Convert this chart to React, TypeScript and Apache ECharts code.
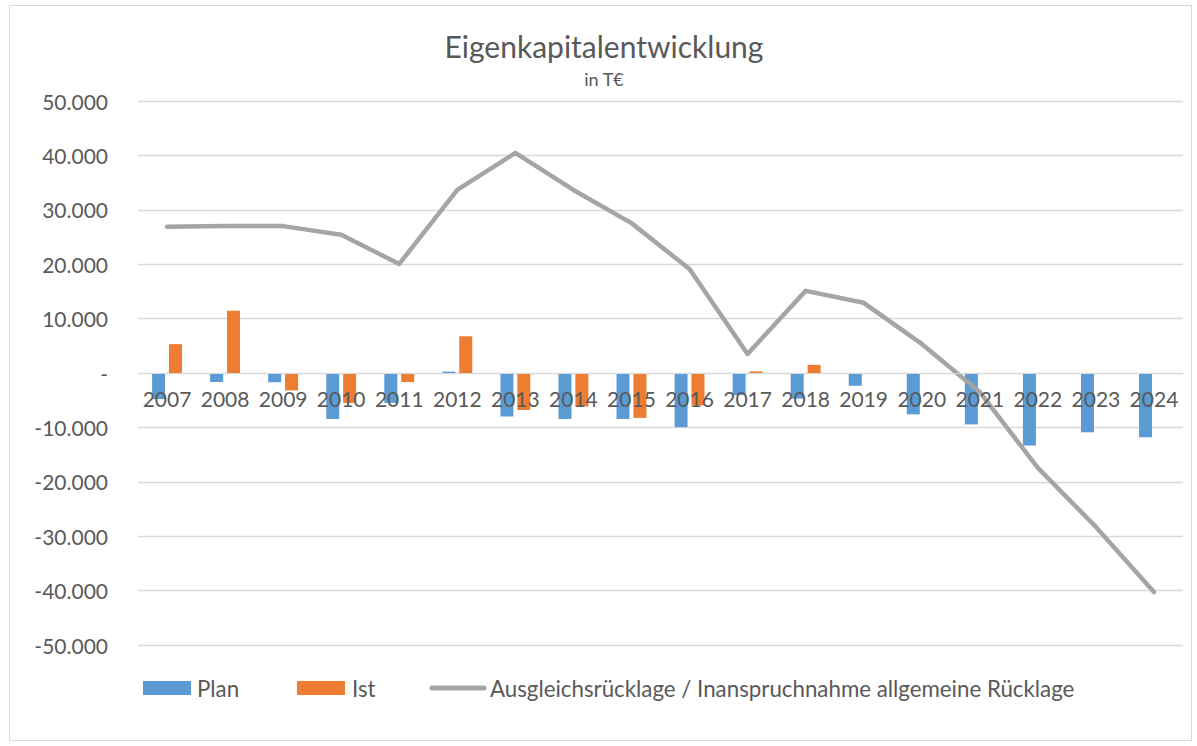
import React, { useEffect, useRef } from "react";
import * as echarts from "echarts";

const years = ["2007","2008","2009","2010","2011","2012","2013","2014","2015","2016","2017","2018","2019","2020","2021","2022","2023","2024"];
const plan = [-4800,-1650,-1700,-8450,-5500,250,-8000,-8450,-8450,-9950,-4050,-4700,-2350,-7600,-9450,-13350,-10900,-11800];
const ist = [5300,11450,-3200,-5500,-1650,6750,-6800,-6150,-8250,-5950,300,1500,null,null,null,null,null,null];
const ruecklage = [26900,27000,27000,25400,20050,33650,40450,33650,27550,19100,3500,15100,12900,5350,-3500,-17450,-28300,-40250];

const seriesNames = ["Plan", "Ist", "Ausgleichsrücklage / Inanspruchnahme allgemeine Rücklage"];
const colors = ["#5b9bd5", "#ed7d31", "#a5a5a5"];

const FONT = "Lato, 'Open Sans', sans-serif";
const TXT = "#595959";

function fmt(v: number): string {
  if (v === 0) return "-";
  const s = Math.abs(v).toString().replace(/\B(?=(\d{3})+(?!\d))/g, ".");
  return (v < 0 ? "-" : "") + s;
}

export default function App() {
  const ref = useRef<HTMLDivElement>(null);
  useEffect(() => {
    if (!ref.current) return;
    const chart = echarts.init(ref.current, undefined, { renderer: "svg" });
    const legendY = 688;
    const legendFont = { fontFamily: FONT, fontSize: 22.3, fill: TXT };
    chart.setOption({
      animation: false,
      backgroundColor: "#ffffff",
      textStyle: { fontFamily: FONT },
      title: {
        text: "Eigenkapitalentwicklung",
        subtext: "in T€",
        left: 599,
        textAlign: "center",
        top: 26,
        itemGap: 9,
        textStyle: { fontFamily: FONT, fontSize: 30, fontWeight: "normal", color: TXT },
        subtextStyle: { fontFamily: FONT, fontSize: 18, color: TXT },
      },
      graphic: [
        { type: "rect", shape: { x: 143, y: legendY - 7, width: 48, height: 14 }, style: { fill: colors[0] } },
        { type: "text", x: 197, y: legendY, style: { ...legendFont, text: seriesNames[0], verticalAlign: "middle" } },
        { type: "rect", shape: { x: 297, y: legendY - 7, width: 48, height: 14 }, style: { fill: colors[1] } },
        { type: "text", x: 352, y: legendY, style: { ...legendFont, text: seriesNames[1], verticalAlign: "middle" } },
        { type: "line", shape: { x1: 432, y1: legendY, x2: 484, y2: legendY }, style: { stroke: colors[2], lineWidth: 5, lineCap: "round" } },
        { type: "text", x: 490, y: legendY, style: { ...legendFont, text: seriesNames[2], verticalAlign: "middle" } },
      ],
      grid: { left: 138, right: 14, top: 101, bottom: 101, containLabel: false },
      xAxis: {
        type: "category",
        data: years,
        offset: -272,
        z: 10,
        axisLine: { onZero: false, lineStyle: { color: "#d9d9d9", width: 1 } },
        axisTick: { show: false },
        axisLabel: { fontFamily: FONT, fontSize: 21, color: TXT, margin: 15, interval: 0 },
      },
      yAxis: {
        type: "value",
        min: -50000,
        max: 50000,
        interval: 10000,
        axisLine: { show: false },
        axisTick: { show: false },
        splitLine: { lineStyle: { color: "#d9d9d9", width: 1.3 } },
        axisLabel: { fontFamily: FONT, fontSize: 21, color: TXT, margin: 30, formatter: fmt },
      },
      series: [
        {
          name: seriesNames[0],
          type: "bar",
          data: plan,
          barWidth: 13,
          barGap: "30%",
          itemStyle: { color: colors[0] },
        },
        {
          name: seriesNames[1],
          type: "bar",
          data: ist,
          barWidth: 13,
          barGap: "30%",
          itemStyle: { color: colors[1] },
        },
        {
          name: seriesNames[2],
          type: "line",
          data: ruecklage,
          symbol: "none",
          z: 5,
          lineStyle: { color: colors[2], width: 4.5, cap: "round", join: "round" },
          itemStyle: { color: colors[2] },
        },
      ],
    });
    return () => chart.dispose();
  }, []);
  return (
    <div style={{ position: "fixed", left: 0, top: 0, width: 1197, height: 746, background: "#fff" }}>
      <div ref={ref} style={{ position: "absolute", left: 0, top: 0, width: 1197, height: 746 }} />
      <div style={{ position: "absolute", left: 9, top: 5, width: 1181, height: 734, border: "1px solid #d9d9d9", pointerEvents: "none" }} />
    </div>
  );
}
